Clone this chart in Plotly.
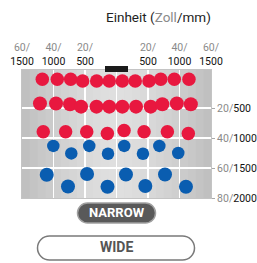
import plotly.graph_objects as go

# ---- data ----
x_ticks = [-60, -40, -20, 0, 20, 40, 60]
x_tick_top = ["60/", "40/", "20/", "", "20/", "40/", "60/"]
x_tick_bottom = ["1500", "1000", "500", "", "500", "1000", "1500"]
y_ticks = [20, 40, 60, 80]
y_tick_top = ["20/", "40/", "60/", "80/"]
y_tick_bottom = ["500", "1000", "1500", "2000"]

row1_x = [-47.1, -37.6, -29.1, -21.5, -12.6, -4.6, 3.7, 11.9, 20.6, 28.1, 36.7, 46.0]
row1_y = [0.9, 0.9, 0.9, 2.0, 2.0, 2.0, 2.0, 2.0, 2.0, 0.9, 0.9, 0.9]
row2_x = [-48.6, -38.4, -29.5, -22.5, -12.7, -4.6, 3.7, 12.4, 21.7, 29.1, 38.3, 47.2]
row2_y = [17.0, 17.0, 17.5, 19.1, 19.1, 19.1, 19.1, 19.1, 19.1, 17.5, 17.0, 17.5]
row3_x = [-46.5, -32.3, -18.9, -5.8, 4.8, 17.5, 32.3, 45.6]
row3_y = [35.8, 35.8, 35.8, 37.0, 35.0, 35.8, 35.8, 37.0]
row4_x = [-40.1, -28.7, -17.3, -5.4, 4.9, 16.8, 27.2, 39.2]
row4_y = [45.3, 50.3, 45.3, 50.5, 45.3, 50.5, 45.3, 50.0]
row5_x = [-44.3, -30.8, -18.7, -5.7, 6.0, 18.3, 30.8, 44.1]
row5_y = [64.5, 72.3, 64.0, 72.5, 64.3, 72.0, 64.3, 72.5]

title_parts = ["Einheit (", "Zoll", "/mm)"]
button_labels = ["NARROW", "WIDE"]

RED = "#E8183F"
BLUE = "#0A5DB0"
GREY_TXT = "#8a8a8a"
FONT = "Roboto, Liberation Sans, sans-serif"

W, H = 257, 263
ML, MR, MT, MB = 22, 46, 70, 65
PW, PH = W - ML - MR, H - MT - MB


def px_to_paper(px, py):
    return (px - ML) / PW, (H - MB - py) / PH


fig = go.Figure()

for xs, ys, col, sz in [
    (row1_x, row1_y, RED, 13.5),
    (row2_x, row2_y, RED, 14),
    (row3_x, row3_y, RED, 13.5),
    (row4_x, row4_y, BLUE, 12.5),
    (row5_x, row5_y, BLUE, 14),
]:
    fig.add_trace(go.Scatter(x=xs, y=ys, mode="markers",
                             marker=dict(color=col, size=sz, line=dict(width=0)),
                             showlegend=False, hoverinfo="skip", cliponaxis=False))

shapes = []
# background gradient strips (lighter in the centre)
n = 24
for i in range(n):
    t = (i + 0.5) / n
    d = abs(t - 0.5) * 2
    g = int(224 - 34 * d ** 1.5)
    shapes.append(dict(type="rect", xref="paper", yref="paper",
                       x0=i / n, x1=(i + 1) / n + 0.002, y0=0, y1=1,
                       fillcolor=f"rgb({g},{g},{g})", line=dict(width=0), layer="below"))

# black bar at top centre
bx0, by0 = px_to_paper(105, 72)
bx1, by1 = px_to_paper(128, 66)
shapes.append(dict(type="rect", xref="paper", yref="paper", x0=bx0, x1=bx1, y0=by0, y1=by1,
                   fillcolor="#1b1b1b", line=dict(width=0), layer="above"))


def pill(w, h):
    r = h / 2
    k = 0.5523 * r
    a = w / 2 - r
    return (f"M {-a},{-r} L {a},{-r} C {a + k},{-r} {w / 2},{-k} {w / 2},0 "
            f"C {w / 2},{k} {a + k},{r} {a},{r} L {-a},{r} "
            f"C {-a - k},{r} {-w / 2},{k} {-w / 2},0 C {-w / 2},{-k} {-a - k},{-r} {-a},{-r} Z")


nx, ny = px_to_paper(116.5, 213)
shapes.append(dict(type="path", xref="paper", yref="paper", xanchor=nx, yanchor=ny,
                   xsizemode="pixel", ysizemode="pixel", path=pill(78, 20),
                   fillcolor="#595959", line=dict(color="#a0a0a0", width=1.5)))
wx, wy = px_to_paper(116, 248)
shapes.append(dict(type="path", xref="paper", yref="paper", xanchor=wx, yanchor=wy,
                   xsizemode="pixel", ysizemode="pixel", path=pill(157, 24),
                   fillcolor="white", line=dict(color="#7a7a7a", width=1.5)))

tx, ty = px_to_paper(158, 17)
annotations = [
    dict(xref="paper", yref="paper", x=tx, y=ty, showarrow=False,
         text=f"{title_parts[0]}<span style='color:{GREY_TXT}'>{title_parts[1]}</span>{title_parts[2]}",
         font=dict(family=FONT, size=13.5, color="#222"), xanchor="center", yanchor="middle"),
    dict(xref="paper", yref="paper", x=nx, y=ny + 0.005, showarrow=False,
         text=f"<b>{button_labels[0]}</b>", font=dict(family=FONT, size=13, color="white"),
         xanchor="center", yanchor="middle"),
    dict(xref="paper", yref="paper", x=wx, y=wy + 0.005, showarrow=False,
         text=f"<b>{button_labels[1]}</b>", font=dict(family=FONT, size=14, color="#555"),
         xanchor="center", yanchor="middle"),
]

fig.update_layout(
    width=W, height=H, margin=dict(l=ML, r=MR, t=MT, b=MB, autoexpand=False),
    paper_bgcolor="white", plot_bgcolor="#d8d8d8",
    shapes=shapes, annotations=annotations,
    font=dict(family=FONT),
)
fig.update_xaxes(range=[-60, 60], side="top", tickvals=x_ticks,
                 ticktext=[f"<span style='color:{GREY_TXT}'>{a}</span><br>{b}" if a else ""
                           for a, b in zip(x_tick_top, x_tick_bottom)],
                 tickfont=dict(size=10.5, color="#111"), ticks="",
                 showgrid=True, gridcolor="white", gridwidth=1.5, zeroline=False,
                 showline=True, linecolor="#c4c4c4", linewidth=1, mirror=True)
fig.update_yaxes(range=[80, 80 - PH / 1.5], side="right", tickvals=y_ticks,
                 ticktext=[f"<span style='color:{GREY_TXT}'>{a}</span>{b}"
                           for a, b in zip(y_tick_top, y_tick_bottom)],
                 tickfont=dict(size=10.5, color="#111"), ticks="outside", ticklen=3,
                 tickcolor="#aaa", showgrid=True, gridcolor="white", gridwidth=1.5,
                 zeroline=False, showline=True, linecolor="#c4c4c4", linewidth=1, mirror=True)

fig.write_html("out.html", config={"displayModeBar": False, "staticPlot": True},
               post_script="document.body.style.margin='0';document.body.style.overflow='hidden';")
